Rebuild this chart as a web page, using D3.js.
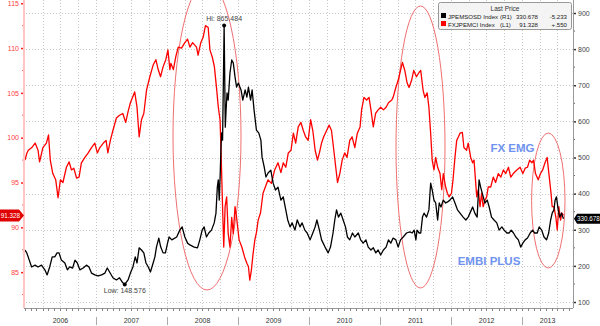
<!DOCTYPE html>
<html>
<head>
<meta charset="utf-8">
<script src="https://cdn.jsdelivr.net/npm/d3@7/dist/d3.min.js"></script>
<style>
  html, body { margin: 0; padding: 0; background: #fff; }
  svg { display: block; font-family: "Liberation Sans", Arial, sans-serif; }
</style>
</head>
<body>
<svg id="chart" width="600" height="326"></svg>
<script>
// FX EMG index (left axis)
const fxDates = ["2006-01-01","2006-01-11","2006-01-18","2006-02-05","2006-02-22","2006-03-09","2006-03-17","2006-04-03","2006-04-21","2006-05-02","2006-05-11","2006-05-24","2006-06-08","2006-06-20","2006-07-02","2006-07-15","2006-08-02","2006-08-16","2006-08-28","2006-09-09","2006-09-23","2006-10-06","2006-10-18","2006-11-05","2006-11-22","2006-12-09","2006-12-26",
"2007-01-08","2007-01-21","2007-02-08","2007-02-22","2007-03-03","2007-03-16","2007-03-29","2007-04-16","2007-05-02","2007-05-19","2007-06-03","2007-06-15","2007-06-27","2007-07-19","2007-07-31","2007-08-11","2007-08-23","2007-09-04","2007-09-18","2007-10-05","2007-10-22","2007-11-05","2007-11-17","2007-11-29","2007-12-12","2007-12-26",
"2008-01-06","2008-01-16","2008-01-21","2008-02-03","2008-02-15","2008-02-28","2008-03-16","2008-04-02","2008-04-16","2008-04-28","2008-05-12","2008-06-01","2008-06-09","2008-06-23","2008-07-05","2008-07-17","2008-07-31","2008-08-09","2008-08-21","2008-09-01","2008-09-13","2008-09-21","2008-09-30","2008-10-05","2008-10-12","2008-10-19","2008-10-26","2008-11-03","2008-11-11","2008-11-20","2008-11-29","2008-12-07","2008-12-16","2008-12-24",
"2009-01-06","2009-01-20","2009-02-03","2009-02-15","2009-02-23","2009-03-02","2009-03-10","2009-03-19","2009-03-28","2009-04-05","2009-04-14","2009-04-26","2009-05-09","2009-05-21","2009-06-04","2009-06-21","2009-07-08","2009-07-25","2009-08-09","2009-08-21","2009-09-03","2009-09-16","2009-09-30","2009-10-12","2009-10-24","2009-11-06","2009-11-20","2009-12-02","2009-12-14","2009-12-27",
"2010-01-09","2010-01-20","2010-02-01","2010-02-13","2010-02-23","2010-03-06","2010-03-17","2010-04-01","2010-04-14","2010-04-26","2010-05-08","2010-05-18","2010-05-27","2010-06-08","2010-06-20","2010-07-03","2010-07-15","2010-07-29","2010-08-10","2010-08-24","2010-09-06","2010-09-20","2010-09-28","2010-10-10","2010-10-24","2010-11-05","2010-11-15","2010-11-27","2010-12-09","2010-12-22",
"2011-01-04","2011-01-18","2011-02-01","2011-02-13","2011-03-02","2011-03-09","2011-03-23","2011-04-04","2011-04-16","2011-04-26","2011-05-08","2011-05-20","2011-05-30","2011-06-12","2011-06-23","2011-07-07","2011-07-21","2011-07-29","2011-08-10","2011-08-19","2011-08-31","2011-09-09","2011-09-18","2011-09-26","2011-10-05","2011-10-14","2011-10-24","2011-11-05","2011-11-14","2011-11-22","2011-12-04","2011-12-13","2011-12-22",
"2012-01-03","2012-01-11","2012-01-21","2012-01-30","2012-02-08","2012-02-16","2012-02-28","2012-03-07","2012-03-21","2012-03-29","2012-04-11","2012-04-21","2012-04-28","2012-05-12","2012-05-20","2012-05-29","2012-06-06","2012-06-14","2012-06-23","2012-07-02","2012-07-10","2012-07-23","2012-08-05","2012-08-17","2012-08-31","2012-09-13","2012-09-26","2012-10-08","2012-10-22","2012-11-03","2012-11-16","2012-12-04","2012-12-21",
"2013-01-04","2013-01-16","2013-01-28","2013-02-08","2013-02-20","2013-02-28","2013-03-10","2013-03-24","2013-04-05","2013-04-16","2013-04-28","2013-05-09","2013-05-20","2013-05-29","2013-06-04","2013-06-13","2013-06-23","2013-06-30","2013-07-08","2013-07-17","2013-07-24","2013-08-01"];
const fxValues = [97.5,98.3,98.6,98.9,99.4,98.6,97.3,98.9,99.4,100.3,97.5,96.0,95.3,93.3,95.3,95.0,96.7,97.3,96.4,96.6,95.5,95.6,97.2,97.8,98.3,98.9,99.4,
98.3,98.9,99.4,99.7,98.3,99.7,100.8,102.2,102.5,102.7,101.7,102.9,103.9,105.1,103.4,100.1,102.0,102.7,105.3,106.8,108.1,108.7,107.6,106.8,107.9,108.7,
109.8,107.6,108.3,107.6,109.0,110.1,110.0,110.6,111.0,110.1,110.6,110.1,109.2,110.6,111.2,112.5,112.3,109.8,109.0,107.9,105.3,103.4,102.0,98.6,93.0,87.8,92.3,93.4,89.3,87.8,91.1,89.3,92.3,91.1,
88.6,87.8,86.7,86.0,85.6,84.1,85.2,87.1,88.6,89.4,90.8,91.6,93.8,94.5,95.3,94.9,96.4,97.2,96.1,97.2,96.7,98.3,98.6,100.5,99.4,101.2,101.7,100.8,100.1,99.7,
102.0,100.8,98.6,97.5,98.3,99.4,100.1,100.8,101.4,100.8,98.6,96.7,95.0,96.0,97.5,98.3,97.8,99.7,100.1,98.9,100.5,101.2,103.1,104.5,104.2,104.5,103.1,101.2,102.7,103.1,
103.4,103.1,103.4,103.9,104.2,104.5,105.6,106.4,107.5,108.4,107.5,106.1,105.6,106.4,107.5,106.8,107.3,107.5,105.3,104.5,105.0,103.4,100.5,97.5,96.4,97.8,96.7,96.0,94.2,96.0,94.5,93.8,93.4,
93.8,95.3,97.8,99.7,100.1,100.5,100.6,98.9,98.6,99.4,97.8,97.2,97.5,93.4,94.2,92.3,93.8,92.3,93.0,93.4,94.5,94.5,95.6,95.0,96.0,95.6,96.4,96.0,96.7,95.6,96.0,96.4,96.7,
96.0,96.6,96.7,97.5,97.2,97.5,96.0,95.3,96.0,96.4,97.2,97.8,95.6,93.8,92.3,92.3,91.1,89.7,92.3,90.8,91.6,91.328];

// EMBI+ spread (right axis)
const embiDates = ["2006-01-01","2006-01-10","2006-01-23","2006-02-04","2006-02-22","2006-03-09","2006-03-27","2006-04-13","2006-04-25","2006-05-08","2006-05-21","2006-06-03","2006-06-15","2006-06-25","2006-07-07","2006-07-25","2006-08-07","2006-08-19","2006-09-03","2006-09-15","2006-09-27","2006-10-10","2006-10-27","2006-11-13","2006-11-26","2006-12-09","2006-12-26",
"2007-01-12","2007-01-30","2007-02-16","2007-02-28","2007-03-12","2007-03-29","2007-04-16","2007-05-02","2007-05-19","2007-05-29","2007-06-15","2007-06-27","2007-07-10","2007-07-22","2007-07-31","2007-08-11","2007-08-23","2007-09-04","2007-09-15","2007-09-27","2007-10-08","2007-10-22","2007-10-31","2007-11-08","2007-11-20","2007-11-30","2007-12-12","2007-12-24",
"2008-01-04","2008-01-12","2008-01-26","2008-02-20","2008-03-07","2008-03-19","2008-04-02","2008-04-16","2008-04-28","2008-05-20","2008-06-06","2008-06-18","2008-06-30","2008-07-10","2008-07-22","2008-08-03","2008-08-17","2008-08-31","2008-09-09","2008-09-16","2008-09-21","2008-09-26","2008-10-01","2008-10-05","2008-10-08","2008-10-13","2008-10-21","2008-10-27","2008-10-31","2008-11-05","2008-11-11","2008-11-20","2008-11-29","2008-12-07","2008-12-16","2008-12-24",
"2009-01-02","2009-01-16","2009-01-25","2009-02-06","2009-02-15","2009-02-23","2009-03-06","2009-03-14","2009-03-24","2009-04-05","2009-04-17","2009-04-28","2009-05-04","2009-05-15","2009-05-24","2009-06-04","2009-06-18","2009-06-30","2009-07-12","2009-07-25","2009-08-09","2009-08-21","2009-09-03","2009-09-13","2009-09-25","2009-10-06","2009-10-20","2009-11-01","2009-11-15","2009-11-26","2009-12-10","2009-12-22",
"2010-01-06","2010-01-20","2010-02-01","2010-02-10","2010-02-23","2010-03-06","2010-03-24","2010-04-09","2010-04-21","2010-05-04","2010-05-13","2010-05-22","2010-06-01","2010-06-13","2010-06-25","2010-07-07","2010-07-17","2010-07-29","2010-08-12","2010-08-24","2010-09-11","2010-09-23","2010-10-06","2010-10-20","2010-11-01","2010-11-15","2010-11-27","2010-12-10","2010-12-22",
"2011-01-04","2011-01-18","2011-02-01","2011-02-13","2011-02-25","2011-03-09","2011-03-23","2011-04-04","2011-04-16","2011-04-30","2011-05-17","2011-06-03","2011-06-15","2011-06-25","2011-07-04","2011-07-10","2011-07-21","2011-07-29","2011-08-07","2011-08-15","2011-08-28","2011-09-09","2011-09-18","2011-09-26","2011-10-05","2011-10-14","2011-10-24","2011-11-01","2011-11-10","2011-11-22","2011-12-04","2011-12-14","2011-12-26",
"2012-01-09","2012-01-21","2012-02-03","2012-02-16","2012-03-03","2012-03-17","2012-03-29","2012-04-07","2012-04-21","2012-05-02","2012-05-14","2012-05-24","2012-06-01","2012-06-09","2012-06-23","2012-07-05","2012-07-15","2012-07-27","2012-08-09","2012-08-23","2012-09-04","2012-09-18","2012-09-30","2012-10-14","2012-10-26","2012-11-05","2012-11-17","2012-11-29","2012-12-12","2012-12-24",
"2013-01-04","2013-01-16","2013-01-28","2013-02-11","2013-02-23","2013-03-06","2013-03-19","2013-03-29","2013-04-11","2013-04-23","2013-05-06","2013-05-17","2013-05-27","2013-06-04","2013-06-13","2013-06-19","2013-06-26","2013-07-05","2013-07-13","2013-07-22","2013-08-01"];
const embiValues = [244,236,216,197,202,197,202,189,175,197,225,225,236,236,216,208,189,197,194,216,208,189,194,202,197,180,175,
172,175,180,194,183,167,161,167,153,148.576,161,180,197,225,208,250,244,236,208,197,183,208,225,252,277,252,236,236,
263,280,272,280,299,308,280,263,258,252,250,272,299,308,280,291,299,319,346,418,438,382,457,529,568,548,865.484,584,631,679,659,734,770,762,723,695,
706,687,659,687,667,695,659,687,631,576,568,548,501,474,446,457,465,429,410,418,382,391,355,327,308,319,299,327,308,319,299,291,
272,291,308,327,299,272,252,236,252,291,327,355,335,346,327,308,280,272,291,280,291,272,263,272,252,244,250,236,244,
230,244,252,272,263,277,272,252,272,280,291,294,291,299,272,299,291,291,335,346,335,355,429,410,382,374,327,374,363,382,374,377,382,
391,374,355,346,335,327,335,346,363,346,335,438,418,402,374,382,363,335,327,319,299,308,299,291,291,299,291,280,272,252,
263,272,277,291,299,291,291,308,299,280,272,291,327,346,355,382,391,355,335,346,330.678];

const leftTicks = [85, 90, 95, 100, 105, 110, 115];
const rightTicks = [100, 200, 300, 400, 500, 600, 700, 800, 900];
const yearLabels = ["2006","2007","2008","2009","2010","2011","2012","2013"];

const legendRows = [
  { name: "JPEMSOSD Index", axis: "(R1)", last: "330.678", change: "-5.233", color: "#000" },
  { name: "FXJPEMCI Index", axis: "(L1)", last: "91.328", change: "+.550", color: "#ff0000" }
];

const parse = d3.timeParse("%Y-%m-%d");
const fx = fxDates.map((d, i) => ({ date: parse(d), value: fxValues[i] }));
const embi = embiDates.map((d, i) => ({ date: parse(d), value: embiValues[i] }));

const plot = { left: 24, right: 573, top: 0, bottom: 308 };
const xEnd = new Date(2013, 8, 19);
const x = d3.scaleTime().domain([new Date(2006, 0, 1), xEnd]).range([25, plot.right]);
const yL = d3.scaleLinear().domain([81, 115.36]).range([plot.bottom, 0]);
const yR = d3.scaleLinear().domain([100, 900]).range([302, 13]);

const svg = d3.select("#chart");

svg.append("defs").append("clipPath").attr("id", "plotClip")
  .append("rect").attr("x", plot.left).attr("y", 0)
  .attr("width", plot.right - plot.left).attr("height", plot.bottom);

// gridlines
const grid = svg.append("g").attr("stroke", "#c8c8c8").attr("stroke-width", 1)
  .attr("stroke-dasharray", "1,2").attr("shape-rendering", "crispEdges");
grid.selectAll("line.h").data(rightTicks).join("line")
  .attr("x1", plot.left + 2).attr("x2", plot.right)
  .attr("y1", d => Math.round(yR(d)) + 0.5).attr("y2", d => Math.round(yR(d)) + 0.5);
const quarters = d3.timeMonth.every(3).range(new Date(2006, 3, 1), xEnd);
grid.selectAll("line.v").data(quarters).join("line")
  .attr("x1", d => Math.round(x(d)) + 0.5).attr("x2", d => Math.round(x(d)) + 0.5)
  .attr("y1", 0).attr("y2", plot.bottom);

// ellipses highlighting stress episodes
const ellipses = [
  { cx: 207, cy: 136, rx: 34, ry: 154 },
  { cx: 420.5, cy: 147, rx: 24.5, ry: 141 },
  { cx: 548.3, cy: 200.5, rx: 16.7, ry: 67.5 }
];
svg.append("g").selectAll("ellipse").data(ellipses).join("ellipse")
  .attr("cx", d => d.cx).attr("cy", d => d.cy).attr("rx", d => d.rx).attr("ry", d => d.ry)
  .attr("fill", "none").attr("stroke", "#f07070").attr("stroke-width", 1);

// series
const lines = svg.append("g").attr("clip-path", "url(#plotClip)");
lines.append("path").datum(fx)
  .attr("fill", "none").attr("stroke", "#ff0000").attr("stroke-width", 1.3)
  .attr("stroke-linejoin", "round")
  .attr("d", d3.line().x(d => x(d.date)).y(d => yL(d.value)));
lines.append("path").datum(embi)
  .attr("fill", "none").attr("stroke", "#000").attr("stroke-width", 1.3)
  .attr("stroke-linejoin", "round")
  .attr("d", d3.line().x(d => x(d.date)).y(d => yR(d.value)));

// high / low markers
const hi = embi.reduce((a, b) => (b.value > a.value ? b : a));
const lo = embi.reduce((a, b) => (b.value < a.value ? b : a));
svg.append("circle").attr("cx", x(hi.date)).attr("cy", yR(hi.value)).attr("r", 2).attr("fill", "#000");
svg.append("circle").attr("cx", x(lo.date)).attr("cy", yR(lo.value)).attr("r", 2).attr("fill", "#000");
svg.append("text").attr("x", x(hi.date)).attr("y", yR(hi.value) - 4)
  .attr("text-anchor", "middle").attr("font-size", 7).attr("fill", "#444")
  .text("Hi: " + d3.format(".3f")(hi.value));
svg.append("text").attr("x", x(lo.date)).attr("y", yR(lo.value) + 9)
  .attr("text-anchor", "middle").attr("font-size", 7).attr("fill", "#444")
  .text("Low: " + d3.format(".3f")(lo.value));

// left axis (FX EMG)
const leftAxis = d3.axisLeft(yL).tickValues(leftTicks).tickSize(3).tickPadding(2);
const gL = svg.append("g").attr("transform", `translate(${plot.left},0)`).call(leftAxis);
gL.select(".domain").remove();
gL.selectAll(".tick line").attr("stroke", "#ff2020").attr("stroke-width", 1.5);
gL.selectAll(".tick text").attr("fill", "#ff4040").attr("font-size", 7)
  .attr("font-family", "Liberation Sans, Arial, sans-serif");
const leftMinor = d3.range(82.5, 115, 5);
svg.append("g").selectAll("line").data(leftMinor).join("line")
  .attr("x1", plot.left - 2).attr("x2", plot.left)
  .attr("y1", d => yL(d)).attr("y2", d => yL(d))
  .attr("stroke", "#ff6060").attr("stroke-width", 1);
svg.append("line").attr("x1", plot.left).attr("x2", plot.left).attr("y1", 0).attr("y2", plot.bottom)
  .attr("stroke", "#ffc4c4").attr("stroke-width", 2);

// right axis (EMBI+)
const rightAxis = d3.axisRight(yR).tickValues(rightTicks).tickSize(3).tickPadding(2);
const gR = svg.append("g").attr("transform", `translate(${plot.right},0)`).call(rightAxis);
gR.select(".domain").remove();
gR.selectAll(".tick line").attr("stroke", "#333").attr("stroke-width", 1.5);
gR.selectAll(".tick text").attr("fill", "#444").attr("font-size", 7)
  .attr("font-family", "Liberation Sans, Arial, sans-serif");
const rightMinor = d3.range(150, 900, 100);
svg.append("g").selectAll("line").data(rightMinor).join("line")
  .attr("x1", plot.right).attr("x2", plot.right + 2)
  .attr("y1", d => yR(d)).attr("y2", d => yR(d))
  .attr("stroke", "#666").attr("stroke-width", 1);
svg.append("line").attr("x1", plot.right + 0.5).attr("x2", plot.right + 0.5).attr("y1", 0).attr("y2", plot.bottom)
  .attr("stroke", "#999").attr("stroke-width", 1);

// bottom axis: monthly ticks, year separators and year labels
svg.append("line").attr("x1", plot.left).attr("x2", plot.right)
  .attr("y1", plot.bottom + 0.5).attr("y2", plot.bottom + 0.5).attr("stroke", "#999");
const months = d3.timeMonth.range(new Date(2006, 0, 1), xEnd);
svg.append("g").selectAll("line").data(months).join("line")
  .attr("x1", d => Math.round(x(d)) + 0.5).attr("x2", d => Math.round(x(d)) + 0.5)
  .attr("y1", plot.bottom).attr("y2", plot.bottom + 3)
  .attr("stroke", "#888");
const yearStarts = yearLabels.map(y => new Date(+y, 0, 1));
svg.append("g").selectAll("line").data(yearStarts.slice(1)).join("line")
  .attr("x1", d => Math.round(x(d)) + 0.5).attr("x2", d => Math.round(x(d)) + 0.5)
  .attr("y1", 317).attr("y2", 325).attr("stroke", "#aaa");
svg.append("g").selectAll("text").data(yearLabels).join("text")
  .attr("x", (d, i) => {
    const a = x(yearStarts[i]);
    const b = i < yearStarts.length - 1 ? x(yearStarts[i + 1]) : plot.right;
    return (a + b) / 2;
  })
  .attr("y", 323).attr("text-anchor", "middle").attr("font-size", 7).attr("fill", "#333")
  .text(d => d);

// series annotations
svg.append("text").attr("x", 512.5).attr("y", 152).attr("text-anchor", "middle")
  .attr("font-size", 11.5).attr("font-weight", "bold").attr("fill", "#6f93ee").text("FX EMG");
svg.append("text").attr("x", 489).attr("y", 265).attr("text-anchor", "middle")
  .attr("font-size", 11.5).attr("font-weight", "bold").attr("fill", "#6f93ee").text("EMBI PLUS");

// last-value tags
const lastFx = fx[fx.length - 1], lastEmbi = embi[embi.length - 1];
const ly = yL(lastFx.value);
svg.append("path")
  .attr("d", `M0,${ly - 6}H19L24,${ly}L19,${ly + 6}H0Z`).attr("fill", "#e00000");
svg.append("text").attr("x", 10.5).attr("y", ly + 2.3).attr("text-anchor", "middle")
  .attr("font-size", 6.3).attr("fill", "#fff").text(d3.format(".3f")(lastFx.value));
const ry = yR(lastEmbi.value);
svg.append("path")
  .attr("d", `M${plot.right + 1},${ry}L${plot.right + 4},${ry - 5}H600V${ry + 5}H${plot.right + 4}Z`).attr("fill", "#000");
svg.append("text").attr("x", 588.5).attr("y", ry + 2.3).attr("text-anchor", "middle")
  .attr("font-size", 6.3).attr("fill", "#fff").text(d3.format(".3f")(lastEmbi.value));

// legend
const lg = svg.append("g");
lg.append("rect").attr("x", 438.5).attr("y", 2.5).attr("width", 133).attr("height", 27).attr("rx", 2)
  .attr("fill", "#f4f4f4").attr("stroke", "#999");
lg.append("text").attr("x", 505).attr("y", 10.5).attr("text-anchor", "middle")
  .attr("font-size", 6.5).attr("fill", "#333").text("Last Price");
legendRows.forEach((r, i) => {
  const yy = 18.5 + i * 8;
  lg.append("rect").attr("x", 441).attr("y", yy - 5.5).attr("width", 5).attr("height", 5).attr("fill", r.color);
  lg.append("text").attr("x", 448).attr("y", yy).attr("font-size", 6.1).attr("fill", "#222").text(r.name);
  lg.append("text").attr("x", 500).attr("y", yy).attr("font-size", 6.1).attr("fill", "#222").text(r.axis);
  lg.append("text").attr("x", 538).attr("y", yy).attr("text-anchor", "end").attr("font-size", 6.1).attr("fill", "#222").text(r.last);
  lg.append("text").attr("x", 567).attr("y", yy).attr("text-anchor", "end").attr("font-size", 6.1).attr("fill", "#222").text(r.change);
});
</script>
</body>
</html>
